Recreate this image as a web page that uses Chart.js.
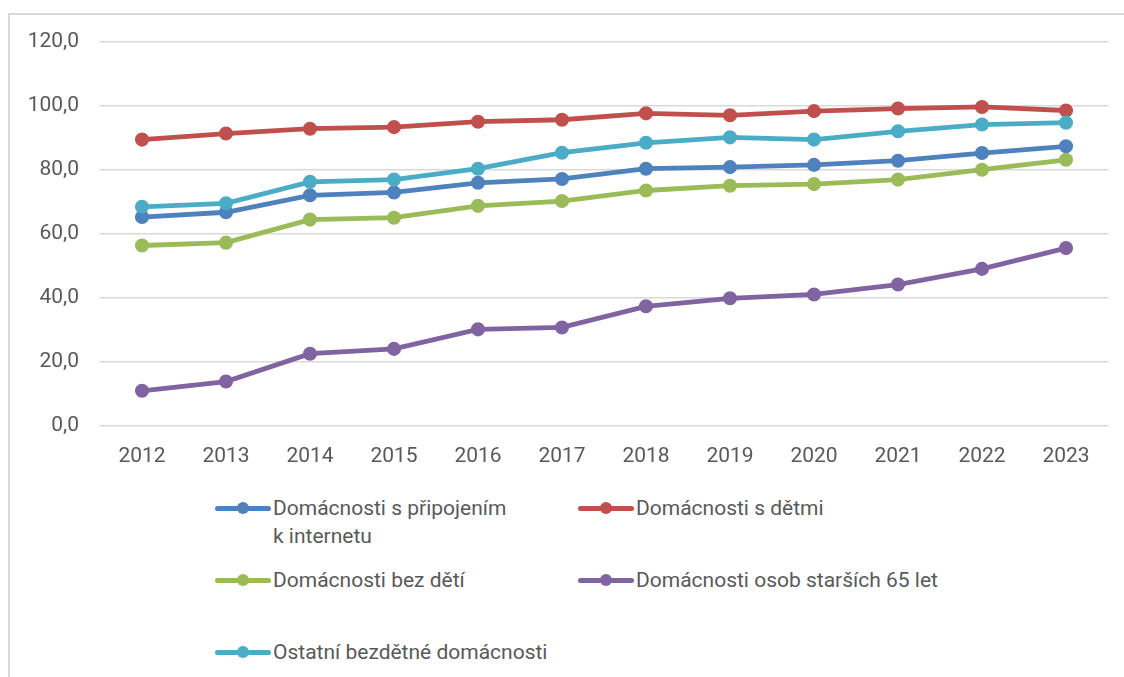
<!DOCTYPE html>
<html>
<head>
<meta charset="utf-8">
<script src="https://cdn.jsdelivr.net/npm/chart.js@4/dist/chart.umd.min.js"></script>
<style>
html, body { margin: 0; padding: 0; background: #fff; }
#wrap { position: relative; width: 1124px; height: 677px; overflow: hidden; background: #fff; font-family: Roboto, "Open Sans", sans-serif; }
#frame { position: absolute; left: 8px; top: 13px; width: 1300px; height: 900px; border-left: 2px solid #d9d9d9; border-top: 2px solid #d9d9d9; }
#c { position: absolute; left: 0; top: 0; }
.item { position: absolute; }
.sw { position: absolute; left: 0; width: 56px; height: 14px; }
.sw .ln { position: absolute; left: 0; top: 4.5px; width: 56px; height: 5px; border-radius: 2.5px; }
.sw .dot { position: absolute; left: 22px; top: 1px; width: 12px; height: 12px; border-radius: 50%; }
.tx { position: absolute; left: 58px; font-size: 21px; line-height: 28px; color: #595959; white-space: normal; }
</style>
</head>
<body>
<div id="wrap">
  <div id="frame"></div>
  <canvas id="c" width="1124" height="490"></canvas>
  <div id="legend"></div>
</div>
<script>
// ---- data ----
const years = ['2012', '2013', '2014', '2015', '2016', '2017', '2018', '2019', '2020', '2021', '2022', '2023'];
const seriesNames = [
  'Domácnosti s připojením k internetu',
  'Domácnosti s dětmi',
  'Domácnosti bez dětí',
  'Domácnosti osob starších 65 let',
  'Ostatní bezdětné domácnosti'
];
const internet = [65.3, 66.8, 72.1, 73.0, 76.0, 77.2, 80.4, 80.9, 81.6, 82.9, 85.3, 87.4];
const withChildren = [89.5, 91.4, 92.9, 93.4, 95.1, 95.7, 97.7, 97.1, 98.4, 99.2, 99.7, 98.6];
const withoutChildren = [56.4, 57.3, 64.5, 65.1, 68.8, 70.3, 73.6, 75.1, 75.6, 77.0, 80.1, 83.2];
const seniors65 = [11.0, 13.9, 22.6, 24.1, 30.2, 30.8, 37.4, 39.9, 41.1, 44.2, 49.1, 55.6];
const otherChildless = [68.5, 69.6, 76.3, 77.0, 80.4, 85.4, 88.5, 90.2, 89.5, 92.1, 94.2, 94.8];
const yTicks = [0, 20, 40, 60, 80, 100, 120];

const seriesValues = [internet, withChildren, withoutChildren, seniors65, otherChildless];
const colors = ['#4F81BD', '#C0504D', '#9BBB59', '#8064A2', '#4BACC6'];

const tickFont = { family: 'Roboto', size: 21 };
const tickColor = '#595959';

const datasets = seriesValues.map((vals, i) => ({
  label: seriesNames[i],
  data: vals,
  borderColor: colors[i],
  backgroundColor: colors[i],
  pointBackgroundColor: colors[i],
  pointBorderColor: colors[i],
  borderWidth: 4.8,
  pointRadius: 6.3,
  pointBorderWidth: 1.5,
  tension: 0,
  order: seriesValues.length - i
}));

new Chart(document.getElementById('c'), {
  type: 'line',
  data: { labels: years, datasets: datasets },
  options: {
    responsive: false,
    devicePixelRatio: 1,
    animation: false,
    layout: { padding: { top: 42, right: 16, left: 0, bottom: 0 } },
    plugins: { legend: { display: false }, tooltip: { enabled: false } },
    scales: {
      x: {
        type: 'category',
        offset: true,
        grid: { display: false, drawTicks: false },
        border: { display: false },
        ticks: { color: tickColor, font: tickFont, padding: 18, maxRotation: 0, autoSkip: false },
        afterFit: (s) => { s.height = 64; }
      },
      y: {
        min: yTicks[0],
        max: yTicks[yTicks.length - 1],
        afterBuildTicks: (s) => { s.ticks = yTicks.map(v => ({ value: v })); },
        grid: { color: '#d9d9d9', lineWidth: 1.5, drawTicks: false },
        border: { display: false },
        ticks: {
          color: tickColor, font: tickFont, padding: 21,
          callback: (v) => Number(v).toFixed(1).replace('.', ',')
        },
        afterFit: (s) => { s.width = 100; }
      }
    }
  }
});

// ---- legend (HTML, real text) ----
const legendCols = [215, 578];
const legendRows = [508, 580, 652];
const leg = document.getElementById('legend');
seriesNames.forEach((name, i) => {
  const col = i % 2, row = Math.floor(i / 2);
  const hasRightNeighbour = col === 0 && i + 1 < seriesNames.length;
  const it = document.createElement('div');
  it.className = 'item';
  it.style.left = legendCols[col] + 'px';
  it.style.top = (legendRows[row] - 14) + 'px';
  const sw = document.createElement('div');
  sw.className = 'sw';
  sw.style.top = '7px';
  const ln = document.createElement('div'); ln.className = 'ln'; ln.style.background = colors[i];
  const dot = document.createElement('div'); dot.className = 'dot'; dot.style.background = colors[i];
  sw.appendChild(ln); sw.appendChild(dot);
  const tx = document.createElement('div');
  tx.className = 'tx';
  tx.style.width = (hasRightNeighbour ? 238 : 480) + 'px';
  tx.textContent = name;
  it.appendChild(sw); it.appendChild(tx);
  leg.appendChild(it);
});
</script>
</body>
</html>
